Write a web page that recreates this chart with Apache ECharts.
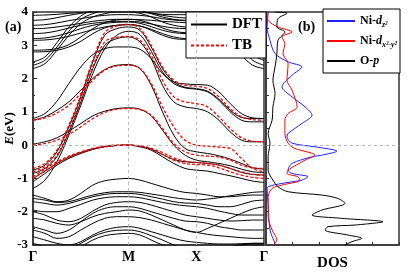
<!DOCTYPE html>
<html><head><meta charset="utf-8">
<script src="https://cdn.jsdelivr.net/npm/echarts@6/dist/echarts.min.js"></script>
<style>html,body{margin:0;padding:0;background:#fff}#c{width:415px;height:278px}</style>
</head><body><div id="c"></div>
<script>
// k-path sample positions (Γ-M, M-X, X-Γ)
const kPath = [0,0.1768,0.3536,0.5303,0.7071,0.8839,1.0607,1.2374,1.4142,1.5809,1.7475,1.9142,2.0809,2.2475,2.4142,2.5809,2.7475,2.9142,3.0809,3.2475,3.4142];
const kTickValues = [0, 1.4142, 2.4142, 3.4142];
const kTickLabels = ['Γ','M','X','Γ'];

// TB bands (red dashed), energies in eV
const tb1 = [-0.7,-0.55,-0.15,0.6,1.5,2.55,3.38,3.58,3.63,3.5,3.0,2.35,1.95,1.8,1.77,1.7,1.45,1.1,0.85,0.77,0.75];
const tb2 = [-0.8,-0.65,-0.3,0.45,1.35,2.35,3.1,3.24,3.27,3.15,2.7,1.95,1.45,1.3,1.25,1.15,0.85,0.5,0.22,0.12,0.1];
const tb3 = [0.75,0.82,0.97,1.2,1.55,1.95,2.25,2.38,2.4,2.3,1.85,1.15,0.55,0.15,0.0,-0.03,-0.06,-0.1,-0.4,-0.7,-0.8];
const tb4 = [0.0,0.05,0.15,0.32,0.55,0.8,0.98,1.08,1.1,1.07,0.9,0.5,0.05,-0.2,-0.3,-0.33,-0.36,-0.45,-0.6,-0.68,-0.7];
const tb5 = [-0.95,-0.72,-0.5,-0.33,-0.2,-0.1,-0.03,0.0,0.0,-0.02,-0.1,-0.22,-0.38,-0.48,-0.52,-0.55,-0.6,-0.7,-0.8,-0.88,-0.9];
const tb6 = [-1.0,-0.78,-0.55,-0.37,-0.23,-0.12,-0.05,-0.01,0.0,-0.03,-0.12,-0.28,-0.45,-0.55,-0.58,-0.6,-0.68,-0.8,-0.9,-0.97,-1.0];

// DFT bands (black)
const dftB1 = [-0.75,-0.6,-0.2,0.55,1.45,2.5,3.3,3.5,3.55,3.45,2.95,2.3,1.9,1.74,1.7,1.62,1.38,1.05,0.83,0.8,0.8];
const dftB2 = [-0.85,-0.7,-0.35,0.4,1.3,2.3,3.0,3.2,3.25,3.1,2.6,1.8,1.3,1.15,1.1,1.0,0.75,0.4,0.15,0.1,0.1];
const dftB3 = [-1.3,-1.05,-0.5,0.3,1.2,2.15,2.9,3.3,3.42,3.32,2.82,2.2,1.85,1.72,1.68,1.6,1.35,1.0,0.75,0.7,0.7];
const dftB4 = [0.75,0.85,1.05,1.3,1.65,2.0,2.27,2.4,2.42,2.3,1.8,1.0,0.3,-0.1,-0.2,-0.25,-0.32,-0.42,-0.55,-0.68,-0.72];
const dftB5 = [0.03,0.1,0.22,0.42,0.65,0.88,1.02,1.1,1.12,1.08,0.88,0.45,0.0,-0.3,-0.45,-0.5,-0.55,-0.62,-0.72,-0.8,-0.82];
const dftB6 = [0.8,0.95,1.32,1.85,2.35,2.72,2.9,2.95,2.95,2.88,2.6,2.15,1.9,1.84,1.82,1.8,1.6,1.25,0.95,0.82,0.8];
const dftB7 = [-1.1,-0.85,-0.6,-0.4,-0.25,-0.13,-0.05,-0.01,0.0,-0.05,-0.15,-0.35,-0.55,-0.7,-0.75,-0.78,-0.85,-0.92,-1.0,-1.08,-1.12];
const dftB8 = [-1.0,-0.78,-0.55,-0.36,-0.22,-0.11,-0.04,-0.01,0.0,-0.03,-0.12,-0.28,-0.43,-0.5,-0.52,-0.55,-0.6,-0.7,-0.82,-0.88,-0.9];
const dftU1 = [3.75,3.77,3.83,3.9,3.96,4.02,4.05,4.06,4.06,4.03,3.97,3.9,3.85,3.82,3.8,3.8,3.82,3.85,3.88,3.9,3.9];
const dftU2 = [3.6,3.62,3.67,3.74,3.8,3.86,3.9,3.92,3.92,3.9,3.86,3.8,3.76,3.74,3.73,3.73,3.74,3.76,3.78,3.8,3.8];
const dftU3 = [3.5,3.51,3.55,3.6,3.66,3.72,3.76,3.78,3.78,3.77,3.75,3.72,3.7,3.68,3.67,3.66,3.64,3.6,3.56,3.52,3.5];
const dftU4 = [3.35,3.37,3.43,3.52,3.6,3.66,3.7,3.72,3.72,3.7,3.64,3.57,3.52,3.5,3.49,3.48,3.45,3.42,3.38,3.35,3.35];
const dftU5 = [3.2,3.22,3.28,3.38,3.5,3.6,3.66,3.69,3.7,3.66,3.56,3.45,3.38,3.35,3.34,3.32,3.28,3.24,3.2,3.17,3.15];
const dftU6 = [3.15,3.16,3.2,3.27,3.37,3.47,3.55,3.6,3.62,3.58,3.48,3.35,3.25,3.2,3.18,3.15,3.1,3.02,2.95,2.9,2.88];
const dftU7 = [3.9,3.91,3.93,3.96,3.98,4.0,4.02,4.02,4.02,4.0,3.96,3.93,3.92,3.92,3.92,3.93,3.95,3.97,3.98,3.98,3.98];
const dftU8 = [2.3,2.45,2.85,3.3,3.65,3.85,3.95,4.0,4.0,3.96,3.85,3.7,3.6,3.55,3.53,3.5,3.35,3.05,2.7,2.4,2.3];
const dftU9 = [2.4,2.55,2.95,3.42,3.78,3.95,4.05,4.1,4.1,4.05,3.95,3.85,3.78,3.75,3.73,3.7,3.58,3.3,2.95,2.55,2.4];
const dftU10 = [2.5,2.65,3.08,3.55,3.88,4.05,4.12,4.15,4.15,4.12,4.08,4.05,4.02,4.0,4.0,3.95,3.8,3.5,3.1,2.7,2.55];
const dftU11 = [2.8,2.81,2.85,2.95,3.12,3.35,3.52,3.6,3.62,3.58,3.45,3.3,3.2,3.18,3.18,3.15,3.05,2.9,2.8,2.75,2.75];
const dftU12 = [2.85,2.86,2.9,3.02,3.25,3.5,3.68,3.76,3.78,3.75,3.65,3.52,3.42,3.38,3.37,3.35,3.25,3.1,2.95,2.87,2.85];
const dftL1 = [-1.5,-1.6,-1.7,-1.65,-1.45,-1.2,-1.07,-1.02,-1.0,-1.05,-1.15,-1.25,-1.35,-1.42,-1.45,-1.5,-1.55,-1.55,-1.52,-1.5,-1.5];
const dftL2 = [-1.6,-1.65,-1.72,-1.7,-1.6,-1.5,-1.43,-1.4,-1.4,-1.42,-1.47,-1.52,-1.58,-1.62,-1.65,-1.62,-1.58,-1.52,-1.47,-1.42,-1.4];
const dftL3 = [-1.7,-1.75,-1.8,-1.75,-1.65,-1.55,-1.48,-1.45,-1.45,-1.48,-1.55,-1.62,-1.7,-1.74,-1.75,-1.8,-1.85,-1.85,-1.78,-1.68,-1.65];
const dftL4 = [-1.95,-2.0,-2.0,-1.9,-1.78,-1.65,-1.58,-1.55,-1.55,-1.58,-1.65,-1.72,-1.78,-1.82,-1.85,-1.9,-1.98,-2.05,-2.1,-2.1,-2.1];
const dftL5 = [-2.0,-2.1,-2.25,-2.3,-2.2,-1.98,-1.8,-1.72,-1.7,-1.72,-1.8,-1.9,-2.0,-2.1,-2.15,-2.2,-2.25,-2.28,-2.27,-2.25,-2.25];
const dftL6 = [-2.45,-2.55,-2.65,-2.55,-2.3,-2.05,-1.9,-1.85,-1.85,-1.9,-2.0,-2.1,-2.2,-2.28,-2.3,-2.35,-2.45,-2.5,-2.55,-2.55,-2.55];
const dftL7 = [-2.55,-2.65,-2.8,-2.75,-2.55,-2.35,-2.2,-2.15,-2.15,-2.18,-2.25,-2.35,-2.45,-2.55,-2.62,-2.68,-2.72,-2.75,-2.78,-2.8,-2.8];
const dftL8 = [-2.75,-2.85,-2.95,-3.0,-2.9,-2.7,-2.55,-2.47,-2.45,-2.5,-2.6,-2.7,-2.8,-2.88,-2.92,-2.95,-2.97,-2.97,-2.96,-2.95,-2.95];
const dftL9 = [-2.95,-3.05,-3.15,-3.1,-2.95,-2.75,-2.62,-2.56,-2.55,-2.6,-2.72,-2.85,-3.0,-3.1,-3.15,-3.15,-3.1,-3.05,-3.0,-2.95,-2.95];
const dftL10 = [-3.2,-3.25,-3.3,-3.2,-3.05,-2.85,-2.72,-2.67,-2.65,-2.7,-2.85,-3.0,-3.1,-3.2,-3.2,-3.15,-3.1,-3.05,-3.0,-3.0,-3.0];
const dftL11 = [-2.2,-2.25,-2.35,-2.4,-2.3,-2.15,-2.05,-2.0,-1.95,-1.98,-2.1,-2.25,-2.4,-2.55,-2.62,-2.5,-2.35,-2.2,-2.05,-1.92,-1.85];

// Projected DOS: energy (eV) and DOS value pairs
const dosDz2E = [4.0,3.96,3.55,3.15,2.75,2.5,2.35,2.1,1.75,1.45,1.15,0.9,0.65,0.35,0.25,0.06,-0.05,-0.18,-0.3,-0.35,-0.55,-0.75,-0.85,-0.95,-1.05,-1.15,-1.25,-1.35,-1.75,-2.55,-2.95,-3.0];
const dosDz2V = [0.1,0.08,0.04,0.15,0.34,0.83,1.35,0.98,0.6,0.98,1.47,1.73,1.35,0.83,0.79,0.98,1.84,2.67,2.1,1.73,0.98,0.83,0.98,1.58,1.35,0.6,0.08,0.04,0.08,0.15,0.34,0.35];
const dosDx2E = [4.0,3.75,3.55,3.4,3.25,3.05,2.75,2.45,1.95,1.65,1.15,0.95,0.75,0.35,0.06,-0.1,-0.3,-0.45,-0.75,-0.85,-0.95,-1.05,-1.2,-1.3,-1.55,-2.15,-2.55,-2.85,-3.0];
const dosDx2V = [0.04,0.08,0.45,0.98,0.6,0.71,0.64,0.83,0.79,0.98,1.17,0.83,0.71,0.71,0.83,1.09,1.84,1.47,0.83,0.79,1.2,1.28,0.6,0.23,0.08,0.08,0.23,0.41,0.26];
const dosOpE = [4.0,3.96,3.8,3.55,3.4,3.15,2.75,2.35,1.95,1.55,1.15,0.75,0.35,0.06,-0.35,-0.75,-1.05,-1.25,-1.4,-1.5,-1.6,-1.75,-1.95,-2.1,-2.2,-2.3,-2.4,-2.45,-2.55,-2.7,-2.8,-2.9,-3.0];
const dosOpV = [0.34,0.79,0.45,0.41,0.71,0.45,0.41,0.34,0.26,0.34,0.26,0.23,0.08,0.15,0.08,0.08,0.26,0.45,0.83,2.1,2.7,2.97,2.1,1.73,2.86,4.4,3.35,2.33,2.22,3.08,3.6,3.23,2.97];

const tbBands = [tb1,tb2,tb3,tb4,tb5,tb6];
const dftBands = [dftB1,dftB2,dftB3,dftB4,dftB5,dftB6,dftB7,dftB8,dftU1,dftU2,dftU3,dftU4,dftU5,dftU6,dftU7,dftU8,dftU9,dftU10,dftU11,dftU12,dftL1,dftL2,dftL3,dftL4,dftL5,dftL6,dftL7,dftL8,dftL9,dftL10,dftL11];

const FONT = 'Liberation Serif';
const chart = echarts.init(document.getElementById('c'), null, {renderer:'canvas'});

function band(vals, name, color, dashed, z) {
  return {type:'line', name, xAxisIndex:0, yAxisIndex:0, silent:true,
    data: kPath.map((k,i)=>[k, vals[i]]), smooth:0.35, showSymbol:false, symbol:'none',
    lineStyle:{color, width: dashed?1.3:1, type: dashed?[3,2]:'solid'}, itemStyle:{color}, z};
}
const series = [];
dftBands.forEach(b => series.push(band(b, 'DFT', '#000', false, 2)));
tbBands.forEach(b => series.push(band(b, 'TB', '#ff0000', true, 3)));
series[0].markLine = {silent:true, symbol:'none', label:{show:false},
  lineStyle:{color:'#aaa', type:[3,3], width:0.8},
  data:[{xAxis:kTickValues[1]},{xAxis:kTickValues[2]},{yAxis:0}]};

function dos(name, E, V, color) {
  return {type:'line', name, xAxisIndex:1, yAxisIndex:1, silent:true,
    data: E.map((e,i)=>[V[i], e]), smooth:0.3, showSymbol:false, symbol:'none',
    lineStyle:{color, width:1}, itemStyle:{color}, z:3};
}
series.push(dos('Ni-dz2', dosDz2E, dosDz2V, '#2020ff'));
series.push(dos('Ni-dx2', dosDx2E, dosDx2V, '#ff0000'));
series.push(dos('O-p', dosOpE, dosOpV, '#000'));
series[series.length-1].markLine = {silent:true, symbol:'none', label:{show:false},
  lineStyle:{color:'#aaa', type:[3,3], width:0.8}, data:[{yAxis:0}]};

const dosLabels = {'Ni-dz2':'{b|Ni-}{i|d}{s|z²}', 'Ni-dx2':'{b|Ni-}{i|d}{s|x²-y²}', 'O-p':'{b|O-}{i|p}'};
const richLeg = {
  b:{fontFamily:FONT, fontWeight:'bold', fontSize:12, color:'#000', lineHeight:16},
  i:{fontFamily:FONT, fontWeight:'bold', fontStyle:'italic', fontSize:12, color:'#000', lineHeight:16},
  s:{fontFamily:FONT, fontWeight:'bold', fontStyle:'italic', fontSize:8, color:'#000', lineHeight:9, verticalAlign:'bottom'}
};

chart.setOption({
  animation:false,
  backgroundColor:'#fff',
  title:[
    {text:'(a)', left:5, top:20, textStyle:{fontFamily:FONT, fontWeight:'bold', fontSize:14, color:'#000'}, padding:0},
    {text:'(b)', left:298, top:20, textStyle:{fontFamily:FONT, fontWeight:'bold', fontSize:14, color:'#000'}, padding:0}
  ],
  legend:[
    {data:['DFT','TB'], orient:'vertical', left:186, top:12, padding:[5,4,5,4], itemGap:6,
     itemWidth:36, itemHeight:12, backgroundColor:'#fff', borderColor:'#000', borderWidth:1,
     itemStyle:{opacity:0}, selectedMode:false, textStyle:{fontFamily:FONT, fontWeight:'bold', fontSize:15, color:'#000'}},
    {data:['Ni-dz2','Ni-dx2','O-p'], orient:'vertical', left:323, top:9, padding:[6,3,6,3], itemGap:6,
     itemWidth:28, itemHeight:12, backgroundColor:'#fff', borderColor:'#000', borderWidth:1,
     itemStyle:{opacity:0}, selectedMode:false, formatter:n=>dosLabels[n], textStyle:{rich:richLeg}}
  ],
  grid:[
    {left:33, top:12, width:231, height:233, show:true, borderColor:'#333', borderWidth:1.5, backgroundColor:'transparent', outerBoundsMode:'none'},
    {left:266, top:12, width:133, height:233, show:true, borderColor:'#333', borderWidth:1.5, backgroundColor:'transparent', outerBoundsMode:'none'}
  ],
  xAxis:[
    {type:'value', gridIndex:0, min:0, max:kTickValues[3],
     axisLine:{show:true, onZero:false, lineStyle:{color:'#333', width:1.5}}, axisTick:{show:false}, splitLine:{show:false},
     axisLabel:{customValues:kTickValues, formatter:v=>{let j=0;kTickValues.forEach((t,i)=>{if(Math.abs(t-v)<1e-3)j=i;});return kTickLabels[j];},
       fontFamily:FONT, fontWeight:'bold', fontSize:14, color:'#000', margin:5}},
    {type:'value', gridIndex:1, min:0, max:5, interval:1, name:'DOS', nameLocation:'middle', nameGap:11, nameMoveOverlap:false,
     nameTextStyle:{fontFamily:FONT, fontWeight:'bold', fontSize:15, color:'#000', verticalAlign:'top'},
     axisLine:{show:true, onZero:false, lineStyle:{color:'#333', width:1.5}}, axisTick:{show:true, inside:true, length:3, lineStyle:{color:'#333'}},
     axisLabel:{show:false}, splitLine:{show:false}}
  ],
  yAxis:[
    {type:'value', gridIndex:0, min:-3, max:4, interval:1, name:'{i|E}(eV)', nameLocation:'middle', nameGap:17, nameMoveOverlap:false,
     nameTextStyle:{fontFamily:FONT, fontWeight:'bold', fontSize:13, color:'#000', verticalAlign:'bottom',
       rich:{i:{fontFamily:FONT, fontWeight:'bold', fontStyle:'italic', fontSize:13, color:'#000'}}},
     axisLine:{show:true, onZero:false, lineStyle:{color:'#333', width:1.5}},
     axisTick:{show:true, inside:true, length:4, lineStyle:{color:'#333'}},
     minorTick:{show:true, splitNumber:2, length:2, lineStyle:{color:'#333'}},
     splitLine:{show:false},
     axisLabel:{fontFamily:FONT, fontWeight:'bold', fontSize:13, color:'#000', margin:5}},
    {type:'value', gridIndex:1, min:-3, max:4, interval:0.5,
     axisLine:{show:true, onZero:false, lineStyle:{color:'#333', width:1.5}},
     axisTick:{show:true, inside:true, length:3, lineStyle:{color:'#333'}},
     splitLine:{show:false}, axisLabel:{show:false}}
  ],
  series
});
</script></body></html>
